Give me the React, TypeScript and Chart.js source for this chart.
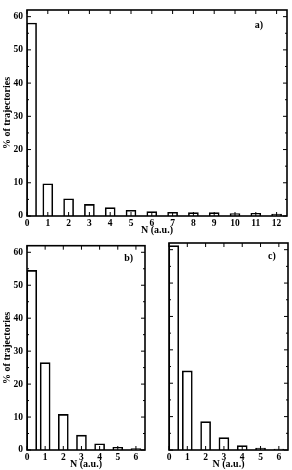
import React, { useEffect, useRef } from 'react';
import { Chart, registerables } from 'chart.js';

Chart.register(...registerables);

// ---- data ----
const N_A = [0, 1, 2, 3, 4, 5, 6, 7, 8, 9, 10, 11, 12];
const BAR_X_A = [0.22, 1, 2, 3, 4, 5, 6, 7, 8, 9, 10, 11, 12];
const PCT_A = [58.1, 9.7, 5.2, 3.5, 2.5, 1.7, 1.3, 1.1, 1.0, 1.0, 0.7, 0.8, 0.6];

const N_BC = [0, 1, 2, 3, 4, 5, 6];
const BAR_X_BC = [0.26, 1, 2, 3, 4, 5, 6];
const PCT_B = [54.5, 26.5, 10.8, 4.5, 1.9, 0.8, 0.4];
const PCT_C = [61.2, 23.7, 8.5, 3.7, 1.3, 0.6, 0.3];

const Y_TICKS = [0, 10, 20, 30, 40, 50, 60];
const Y_MINOR = [5, 15, 25, 35, 45, 55];
const Y_MAX = 62;
const X_MAX_A = 12.5;
const X_MAX_BC = 6.5;

const Y_TITLE = '% of trajectories';
const X_TITLE = 'N (a.u.)';
const PANEL_LABELS = ['a)', 'b)', 'c)'];

const FAMILY = '"Liberation Serif", "Times New Roman", serif';

const framePlugin = {
  id: 'frame',
  afterDatasetsDraw(chart: any, _args: any, opts: any) {
    const { ctx, chartArea, scales } = chart;
    const { left, right, top, bottom } = chartArea;
    const x = scales.x;
    const y = scales.y;
    ctx.save();
    ctx.strokeStyle = '#000';
    ctx.lineWidth = 1;
    const major = 4;
    const minor = 2;
    ctx.beginPath();
    for (const v of opts.yMajor) {
      const p = y.getPixelForValue(v);
      ctx.moveTo(left, p); ctx.lineTo(left + major, p);
      ctx.moveTo(right, p); ctx.lineTo(right - major, p);
    }
    for (const v of opts.yMinor) {
      const p = y.getPixelForValue(v);
      ctx.moveTo(left, p); ctx.lineTo(left + minor, p);
      ctx.moveTo(right, p); ctx.lineTo(right - minor, p);
    }
    for (const v of opts.xMajor) {
      const p = x.getPixelForValue(v);
      ctx.moveTo(p, bottom); ctx.lineTo(p, bottom - major);
      ctx.moveTo(p, top); ctx.lineTo(p, top + major);
    }
    ctx.stroke();
    ctx.lineWidth = 1.6;
    ctx.strokeRect(left, top, right - left, bottom - top);
    ctx.font = `bold 10px ${FAMILY}`;
    ctx.fillStyle = '#000';
    ctx.textAlign = 'right';
    ctx.textBaseline = 'middle';
    ctx.fillText(opts.label, x.getPixelForValue(opts.labelX), y.getPixelForValue(opts.labelY));
    ctx.restore();
  },
};

type PanelProps = {
  left: number;
  top: number;
  width: number;
  height: number;
  xs: number[];
  ys: number[];
  xTicks: number[];
  xMax: number;
  yAxisWidth: number;
  showY: boolean;
  padTop: number;
  padRight: number;
  label: string;
  labelX: number;
  labelY: number;
};

function Panel(p: PanelProps) {
  const ref = useRef<HTMLCanvasElement>(null);
  useEffect(() => {
    if (!ref.current) return;
    const tickFont = { family: FAMILY, weight: 'bold' as const, size: 9.5 };
    const titleFont = { family: FAMILY, weight: 'bold' as const, size: 10 };
    const chart = new Chart(ref.current, {
      type: 'bar',
      data: {
        datasets: [
          {
            data: p.xs.map((x, i) => ({ x, y: p.ys[i] })),
            backgroundColor: '#fff',
            borderColor: '#000',
            borderWidth: 1.6,
            barThickness: 10,
            borderSkipped: 'start',
          } as any,
        ],
      },
      options: {
        responsive: false,
        animation: false,
        layout: { padding: { top: p.padTop, right: p.padRight, left: 0, bottom: 0 } },
        plugins: {
          legend: { display: false },
          tooltip: { enabled: false },
          frame: {
            yMajor: Y_TICKS,
            yMinor: Y_MINOR,
            xMajor: p.xTicks,
            label: p.label,
            labelX: p.labelX,
            labelY: p.labelY,
          },
        } as any,
        scales: {
          x: {
            type: 'linear',
            min: 0,
            max: p.xMax,
            offset: false,
            grid: { display: false, drawTicks: false, tickLength: 0 },
            border: { display: false },
            afterBuildTicks: (s: any) => {
              s.ticks = p.xTicks.map((v) => ({ value: v }));
            },
            afterFit: (s: any) => {
              s.height = 20;
            },
            ticks: { padding: 2, color: '#000', font: tickFont, maxRotation: 0, autoSkip: false },
            title: { display: true, text: X_TITLE, color: '#000', font: titleFont, padding: { top: 0, bottom: 0 } },
          },
          y: {
            type: 'linear',
            min: 0,
            max: Y_MAX,
            grid: { display: false, drawTicks: false, tickLength: 0 },
            border: { display: false },
            afterBuildTicks: (s: any) => {
              s.ticks = Y_TICKS.map((v) => ({ value: v }));
            },
            afterFit: (s: any) => {
              s.width = p.yAxisWidth;
            },
            ticks: { display: p.showY, padding: 4, color: '#000', font: tickFont },
            title: { display: p.showY, text: Y_TITLE, color: '#000', font: titleFont, padding: { top: 1, bottom: 0 } },
          },
        },
      } as any,
      plugins: [framePlugin],
    });
    return () => chart.destroy();
  }, []);
  return (
    <canvas
      ref={ref}
      width={p.width}
      height={p.height}
      style={{ position: 'absolute', left: p.left, top: p.top, width: p.width, height: p.height, display: 'block' }}
    />
  );
}

export default function App() {
  return (
    <div style={{ position: 'absolute', left: 0, top: 0, width: 292, height: 470, background: '#fff' }}>
      <Panel
        left={0} top={0} width={292} height={236}
        xs={BAR_X_A} ys={PCT_A} xTicks={N_A} xMax={X_MAX_A}
        yAxisWidth={27} showY={true} padTop={10} padRight={5}
        label={PANEL_LABELS[0]} labelX={11.35} labelY={57.4}
      />
      <Panel
        left={0} top={236} width={150} height={234}
        xs={BAR_X_BC} ys={PCT_B} xTicks={N_BC} xMax={X_MAX_BC}
        yAxisWidth={27} showY={true} padTop={7} padRight={5}
        label={PANEL_LABELS[1]} labelX={5.84} labelY={58}
      />
      <Panel
        left={150} top={236} width={142} height={234}
        xs={BAR_X_BC} ys={PCT_C} xTicks={N_BC} xMax={X_MAX_BC}
        yAxisWidth={19} showY={false} padTop={7} padRight={4}
        label={PANEL_LABELS[2]} labelX={5.83} labelY={58}
      />
    </div>
  );
}
